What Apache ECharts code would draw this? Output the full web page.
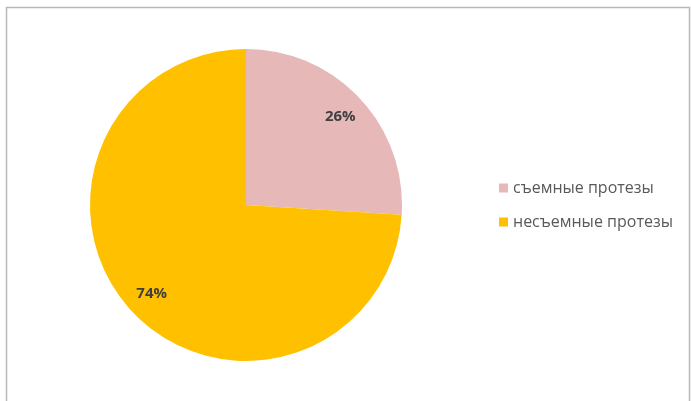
<!DOCTYPE html>
<html>
<head>
<meta charset="utf-8">
<script src="https://cdn.jsdelivr.net/npm/echarts@6/dist/echarts.min.js"></script>
<style>
  html, body { margin: 0; padding: 0; background: #fff; }
  #chart { width: 691px; height: 401px; }
</style>
</head>
<body>
<div id="chart"></div>
<script>
// Prosthesis types, share of patients (%)
const categories = ['съемные протезы', 'несъемные протезы'];
const shares = [26, 74];
const sliceColors = ['#E6B9B8', '#FFC000'];

const pieCenter = [246, 205];
const pieRadius = 156;

const chart = echarts.init(document.getElementById('chart'));

const labelStyle = {
  show: true,
  position: 'inside',
  formatter: p => p.value + '%',
  fontFamily: 'Open Sans, Noto Sans, sans-serif',
  fontSize: 15,
  fontWeight: 'bold',
  color: '#404040'
};

chart.setOption({
  animation: false,
  backgroundColor: '#ffffff',
  graphic: [
    {
      type: 'rect',
      shape: { x: 6.5, y: 7.5, width: 683, height: 400 },
      style: { fill: 'none', stroke: '#b8b8b8', lineWidth: 1.5 },
      silent: true
    }
  ],
  legend: {
    orient: 'vertical',
    left: 494,
    top: 175,
    itemWidth: 9,
    itemHeight: 9,
    itemGap: 18,
    icon: 'rect',
    textStyle: {
      fontFamily: 'Open Sans, Noto Sans, sans-serif',
      fontSize: 16,
      color: '#595959'
    },
    data: categories
  },
  series: [
    {
      // filled slices
      type: 'pie',
      center: pieCenter,
      radius: pieRadius,
      startAngle: 90,
      clockwise: true,
      label: { show: false },
      labelLine: { show: false },
      itemStyle: { borderWidth: 0 },
      emphasis: { disabled: true },
      data: categories.map((name, i) => ({
        name: name,
        value: shares[i],
        itemStyle: { color: sliceColors[i] }
      }))
    },
    {
      // transparent ring that carries the percentage labels near the rim
      type: 'pie',
      center: pieCenter,
      radius: [pieRadius * 0.62, pieRadius],
      startAngle: 90,
      clockwise: true,
      silent: true,
      label: labelStyle,
      labelLine: { show: false },
      itemStyle: { color: 'rgba(0,0,0,0)', borderWidth: 0 },
      emphasis: { disabled: true },
      data: categories.map((name, i) => ({ name: name, value: shares[i] }))
    }
  ]
});
</script>
</body>
</html>
